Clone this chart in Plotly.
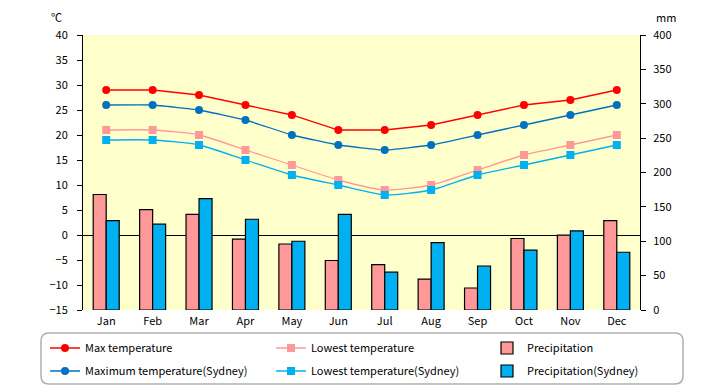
import plotly.graph_objects as go

months = ["Jan", "Feb", "Mar", "Apr", "May", "Jun", "Jul", "Aug", "Sep", "Oct", "Nov", "Dec"]
max_temp = [29, 29, 28, 26, 24, 21, 21, 22, 24, 26, 27, 29]
low_temp = [21, 21, 20, 17, 14, 11, 9, 10, 13, 16, 18, 20]
max_temp_syd = [26, 26, 25, 23, 20, 18, 17, 18, 20, 22, 24, 26]
low_temp_syd = [19, 19, 18, 15, 12, 10, 8, 9, 12, 14, 16, 18]
precip = [168, 146, 139, 103, 96, 72, 66, 45, 32, 104, 109, 130]
precip_syd = [130, 125, 162, 132, 100, 139, 55, 98, 64, 87, 115, 84]

FONT = "Noto Sans CJK JP"

fig = go.Figure()

fig.add_trace(go.Bar(x=months, y=precip, name="Precipitation", yaxis="y2",
                     marker=dict(color="#FF9999", line=dict(color="black", width=1.2)),
                     legend="legend3", legendgroup="p1"))
fig.add_trace(go.Bar(x=months, y=precip_syd, name="Precipitation(Sydney)", yaxis="y2",
                     marker=dict(color="#00B0F0", line=dict(color="black", width=1.2)),
                     legend="legend3", legendgroup="p2"))

fig.add_trace(go.Scatter(x=months, y=max_temp, name="Max temperature", mode="lines+markers",
                         line=dict(color="#FF0000", width=1.3),
                         marker=dict(symbol="circle", size=8, color="#FF0000"),
                         legend="legend", legendgroup="m1"))
fig.add_trace(go.Scatter(x=months, y=max_temp_syd, name="Maximum temperature(Sydney)", mode="lines+markers",
                         line=dict(color="#0070C0", width=1.3, shape="spline", smoothing=0.3),
                         marker=dict(symbol="circle", size=8, color="#0070C0"),
                         legend="legend", legendgroup="m2"))
fig.add_trace(go.Scatter(x=months, y=low_temp, name="Lowest temperature", mode="lines+markers",
                         line=dict(color="#FF9999", width=1.3, shape="spline", smoothing=0.6),
                         marker=dict(symbol="square", size=8, color="#FF9999"),
                         legend="legend2", legendgroup="l1"))
fig.add_trace(go.Scatter(x=months, y=low_temp_syd, name="Lowest temperature(Sydney)", mode="lines+markers",
                         line=dict(color="#00B0F0", width=1.3, shape="spline", smoothing=0.6),
                         marker=dict(symbol="square", size=8, color="#00B0F0"),
                         legend="legend2", legendgroup="l2"))

# plot area in px: x 83..640, y 35..310
L, R, T, B = 83, 640, 35, 310
W, H = R - L, B - T
def px(xp):
    return (xp - L) / W
def py(yp):
    return (B - yp) / H

x0, x1 = px(41), px(683)
y0, y1 = py(384), py(333)
rx, ry = 8 / W, 8 / H
path = (f"M {x0+rx},{y0} L {x1-rx},{y0} Q {x1},{y0} {x1},{y0+ry} "
        f"L {x1},{y1-ry} Q {x1},{y1} {x1-rx},{y1} L {x0+rx},{y1} "
        f"Q {x0},{y1} {x0},{y1-ry} L {x0},{y0+ry} Q {x0},{y0} {x0+rx},{y0} Z")

def leg(xp):
    return dict(orientation="v", x=px(xp), y=py(333.5), xanchor="left", yanchor="top",
                traceorder="grouped", tracegroupgap=4, itemwidth=30,
                bgcolor="rgba(0,0,0,0)", borderwidth=0, font=dict(family=FONT, size=11))

fig.update_layout(
    width=720, height=385,
    margin=dict(l=L, r=720 - R, t=T, b=385 - B, autoexpand=False),
    paper_bgcolor="white",
    plot_bgcolor="#FFFFCC",
    font=dict(family=FONT, size=11, color="black"),
    barmode="group",
    bargap=0.44,
    bargroupgap=0,
    showlegend=True,
    legend=leg(45),
    legend2=leg(271),
    legend3=leg(487),
    xaxis=dict(type="category", range=[-0.5, 11.5], showline=False, ticks="",
               showgrid=False, tickfont=dict(size=11), ticklabelstandoff=3),
    yaxis=dict(range=[-15, 40], dtick=5, showgrid=False, showline=True, linecolor="black",
               linewidth=1, ticks="outside", ticklen=5, tickcolor="black",
               zeroline=True, zerolinecolor="black", zerolinewidth=1.2,
               tickfont=dict(size=11), ticklabelstandoff=7),
    yaxis2=dict(range=[0, 400], dtick=50, overlaying="y", side="right", showgrid=False,
                showline=True, linecolor="black", linewidth=1, ticks="outside", ticklen=5,
                tickcolor="black", zeroline=False, tickfont=dict(size=11), ticklabelstandoff=5),
    shapes=[dict(type="path", path=path, xref="paper", yref="paper",
                 line=dict(color="#B0B0B0", width=1.5), fillcolor="rgba(0,0,0,0)", layer="below")],
    annotations=[
        dict(text="℃", x=px(56), y=py(17.5), xref="paper", yref="paper", showarrow=False,
             xanchor="center", yanchor="middle"),
        dict(text="mm", x=px(666), y=py(17), xref="paper", yref="paper", showarrow=False,
             xanchor="center", yanchor="middle"),
    ],
)

fig.write_html("out.html", config={"displayModeBar": False},
               post_script="document.body.style.margin='0';")
